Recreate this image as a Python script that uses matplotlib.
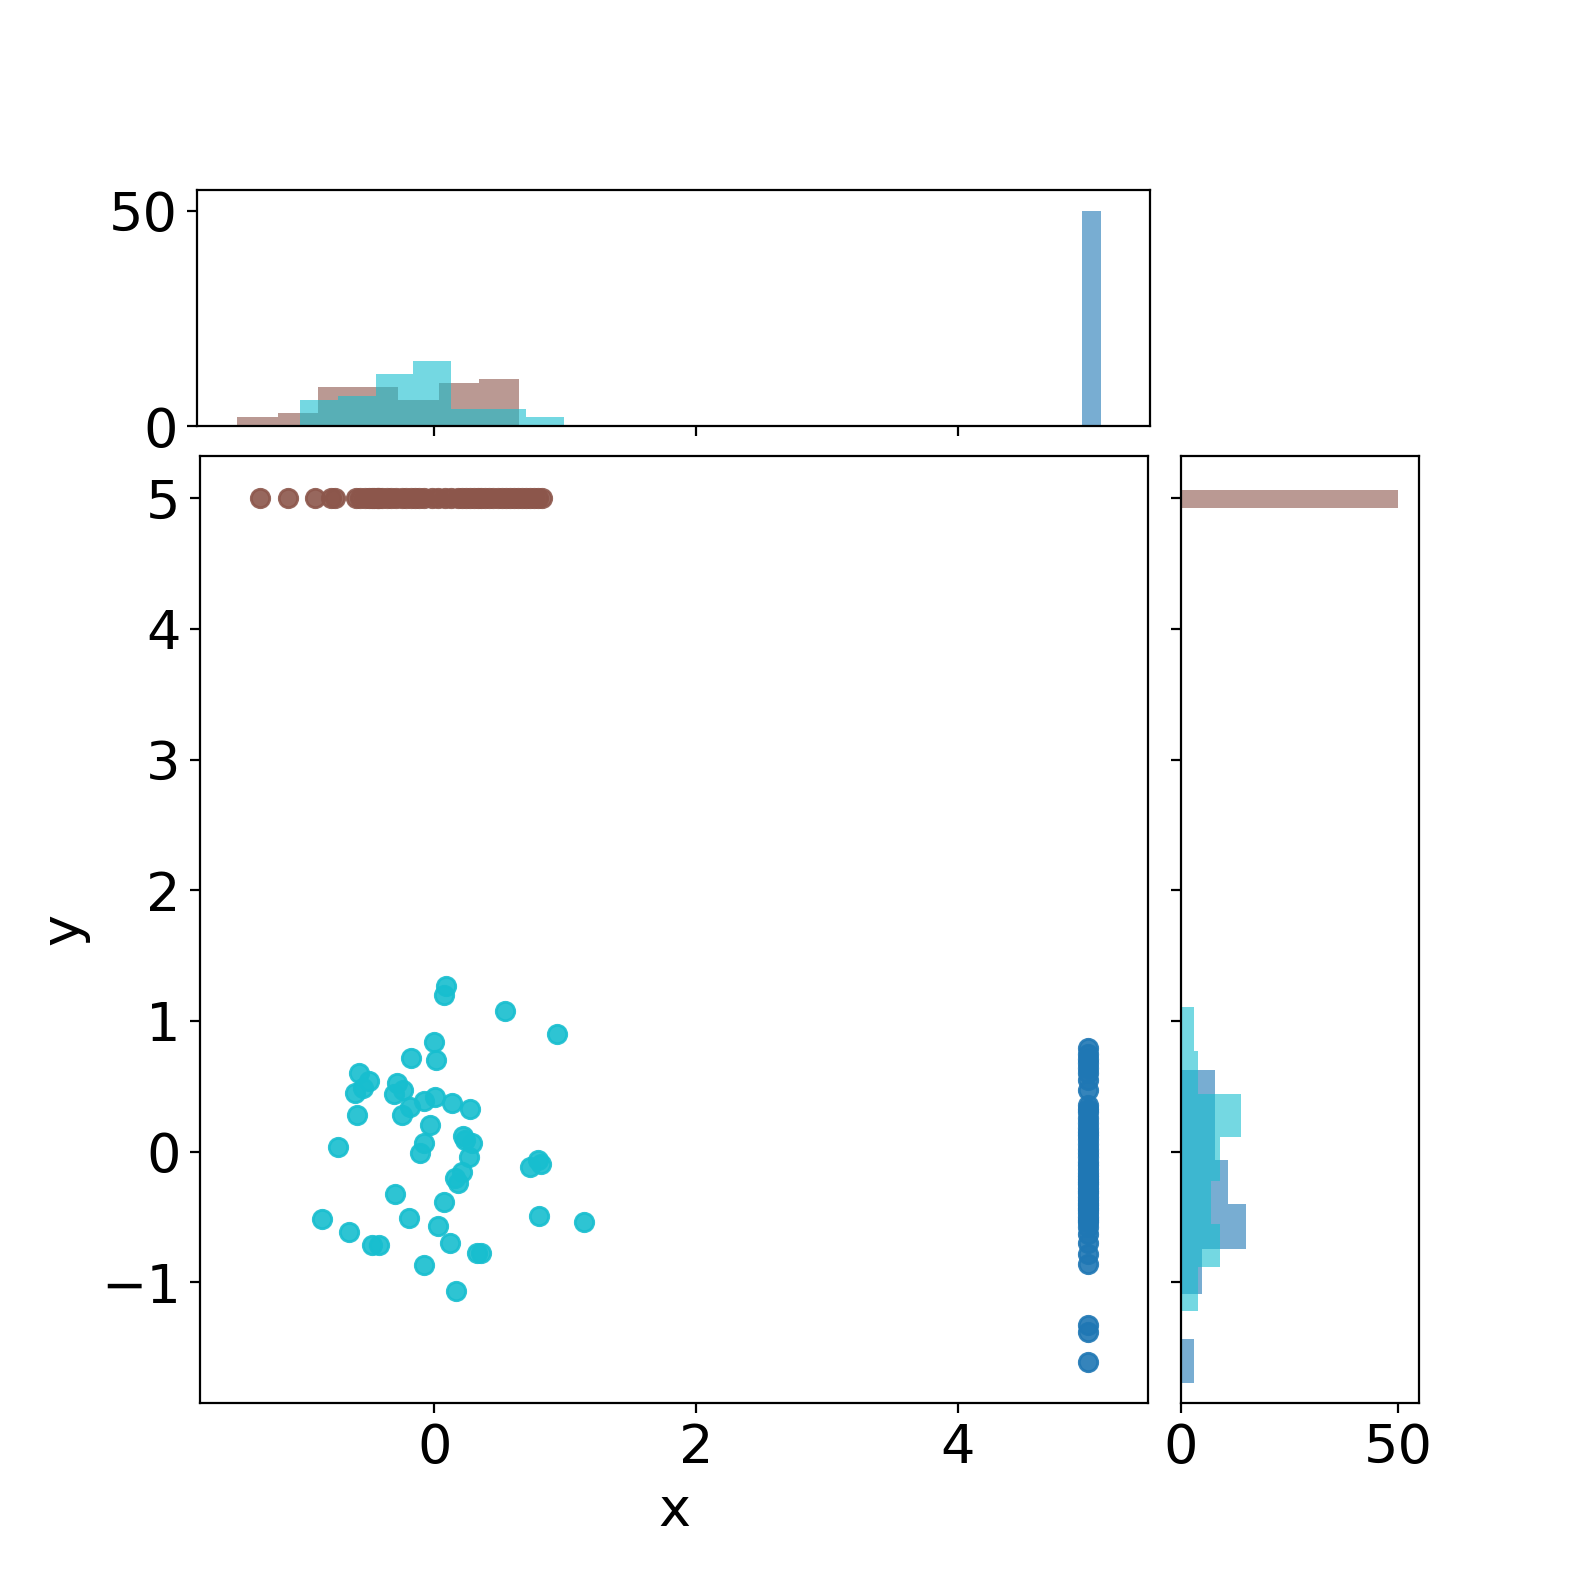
import matplotlib
matplotlib.use("Agg")
import matplotlib.pyplot as plt

# scatter points
cyan_x = [0.089, 0.073, 0.540, 0.935, -0.001, -0.181, 0.015, -0.574, -0.497, -0.288,
          -0.607, -0.548, -0.309, -0.243, -0.187, -0.077, 0.005, 0.135, 0.272, -0.589,
          -0.245, -0.034, 0.221, 0.285, -0.077, -0.110, -0.740, 0.267, 0.795, 0.731,
          0.812, 0.208, 0.157, 0.178, -0.304, 0.073, -0.859, -0.197, 0.797, 1.146,
          -0.650, 0.030, -0.480, -0.421, 0.119, 0.328, 0.354, -0.077, 0.165, 0.234]
cyan_y = [1.268, 1.199, 1.079, 0.901, 0.842, 0.714, 0.702, 0.600, 0.543, 0.528,
          0.447, 0.485, 0.441, 0.472, 0.345, 0.390, 0.421, 0.370, 0.324, 0.278,
          0.281, 0.204, 0.120, 0.069, 0.069, -0.007, 0.038, -0.038, -0.064, -0.115,
          -0.094, -0.153, -0.204, -0.237, -0.324, -0.385, -0.517, -0.505, -0.492, -0.535,
          -0.612, -0.566, -0.716, -0.716, -0.701, -0.773, -0.778, -0.867, -1.063, 0.090]

brown_x = [-1.33, -1.12,
           -0.91, -0.79, -0.76,
           -0.60, -0.57, -0.53, -0.50, -0.48, -0.46, -0.44, -0.43, -0.42,
           -0.40, -0.36, -0.33, -0.29, -0.25, -0.22, -0.18, -0.15, -0.12,
           -0.08, -0.02, 0.03, 0.08, 0.13, 0.18,
           0.21, 0.24, 0.27, 0.30, 0.33, 0.36, 0.39, 0.42, 0.45, 0.49,
           0.52, 0.55, 0.58, 0.61, 0.64, 0.67, 0.70, 0.73, 0.76, 0.79, 0.82]
brown_y = [5.0] * len(brown_x)

blue_y = [0.79, 0.75, 0.71, 0.68, 0.64, 0.60, 0.55, 0.47,
          0.36, 0.33, 0.30, 0.26, 0.22, 0.18, 0.15, 0.13,
          0.10, 0.06, 0.02, -0.01, -0.04, -0.08, -0.10, -0.13, -0.16, -0.19, -0.21,
          -0.23, -0.25, -0.28, -0.30, -0.32, -0.35, -0.37, -0.39, -0.41, -0.43, -0.45,
          -0.47, -0.50, -0.52, -0.54,
          -0.58, -0.63, -0.70, -0.78, -0.86,
          -1.33, -1.38, -1.61]
blue_x = [5.0] * len(blue_y)

# marginal histograms (bin edges + counts)
top_blue_edges = [4.949, 5.096]
top_blue_counts = [50]
top_brown_edges = [-1.507, -1.199, -0.891, -0.583, -0.275, 0.033, 0.341, 0.649]
top_brown_counts = [2, 3, 9, 9, 6, 10, 11]
top_cyan_edges = [-1.028, -0.739, -0.450, -0.162, 0.127, 0.416, 0.704, 0.993]
top_cyan_counts = [6, 7, 12, 15, 4, 4, 2]

right_blue_edges = [-1.772, -1.430, -1.087, -0.745, -0.403, -0.060, 0.282, 0.625]
right_blue_counts = [3, 0, 5, 15, 11, 8, 8]
right_brown_edges = [4.923, 5.063]
right_brown_counts = [50]
right_cyan_edges = [-1.217, -0.885, -0.553, -0.222, 0.110, 0.442, 0.773, 1.105]
right_cyan_counts = [4, 9, 7, 9, 14, 4, 3]

BLUE, BROWN, CYAN = "tab:blue", "tab:brown", "tab:cyan"

plt.rcParams["font.size"] = 19.5

fig = plt.figure(figsize=(7.89, 7.89), dpi=200)
ax = fig.add_axes([0.1269, 0.1110, 0.6008, 0.6001])
ax_top = fig.add_axes([0.1250, 0.7300, 0.6039, 0.1496])
ax_right = fig.add_axes([0.7481, 0.1110, 0.1513, 0.6001])

ax.scatter(blue_x, blue_y, s=44, color=BLUE, alpha=0.9)
ax.scatter(brown_x, brown_y, s=44, color=BROWN, alpha=0.9)
ax.scatter(cyan_x, cyan_y, s=44, color=CYAN, alpha=0.9)
ax.set_xlim(-1.79, 5.458)
ax.set_ylim(-1.922, 5.324)
ax.set_xticks([0, 2, 4])
ax.set_xlabel("x")
ax.set_ylabel("y")

for edges, counts, col in [(top_blue_edges, top_blue_counts, BLUE),
                           (top_brown_edges, top_brown_counts, BROWN),
                           (top_cyan_edges, top_cyan_counts, CYAN)]:
    ax_top.hist(edges[:-1], bins=edges, weights=counts, color=col, alpha=0.6)
ax_top.set_xlim(-1.813, 5.473)
ax_top.set_ylim(0, 54.8)
ax_top.set_xticks([0, 2, 4])
ax_top.set_yticks([0, 50])
ax_top.tick_params(labelbottom=False)

for edges, counts, col in [(right_blue_edges, right_blue_counts, BLUE),
                           (right_brown_edges, right_brown_counts, BROWN),
                           (right_cyan_edges, right_cyan_counts, CYAN)]:
    ax_right.hist(edges[:-1], bins=edges, weights=counts, color=col, alpha=0.6,
                  orientation="horizontal")
ax_right.set_xlim(0, 54.8)
ax_right.set_xticks([0, 50])
ax_right.set_yticks(ax.get_yticks())
ax_right.set_ylim(ax.get_ylim())
ax_right.tick_params(labelleft=False)

fig.savefig("out.png", dpi=200)
